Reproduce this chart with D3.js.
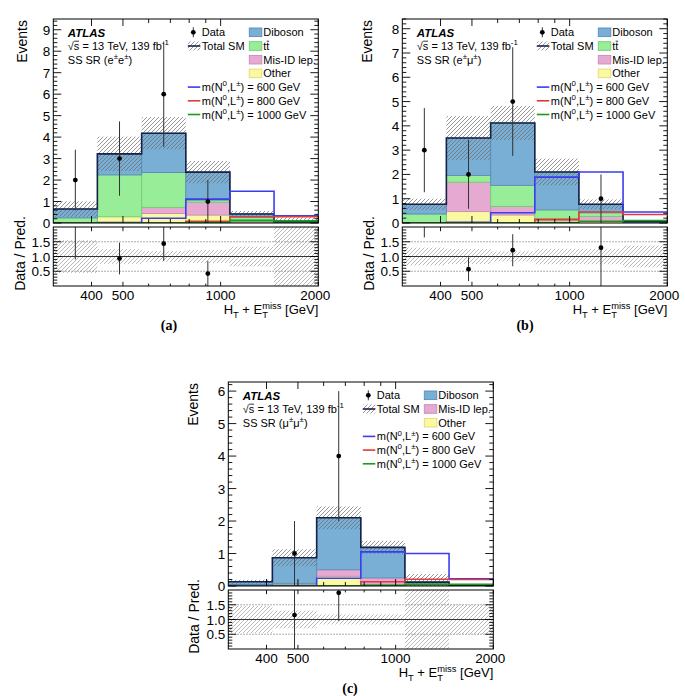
<!DOCTYPE html>
<html><head><meta charset="utf-8">
<script src="https://cdn.jsdelivr.net/npm/d3@7"></script>
<style>
body{margin:0;background:#fff}
svg{display:block}
text{font-family:"Liberation Sans",Arial,Helvetica,sans-serif;fill:#000;white-space:pre}
</style>
</head><body>
<svg id="c" width="685" height="696"></svg>
<script>
// ---------------- DATA ----------------
const binEdges = [305, 417, 571, 781, 1068, 1461, 2000];   // H_T + E_T^miss [GeV]
const xTickLabels = [400, 500, 1000, 2000];
const xMinorTicks = [600, 700, 800, 900];
const ratioTickLabels = ["0.5", "1.0", "1.5"];
const signalNames = ["600", "800", "1000"];

// (a) SS SR e±e±
const otherA   = [0.02, 0.29, 0.44, 0.37, 0.02, 0.00];
const misidA   = [0.00, 0.00, 0.29, 0.60, 0.05, 0.00];
const ttbarA   = [0.22, 1.95, 1.62, 0.10, 0.20, 0.04];
const dibosonA = [0.41, 0.98, 1.83, 1.30, 0.15, 0.02];
const uncA     = [0.36, 0.80, 0.75, 0.52, 0.14, 0.20];
const dataA    = [2, 3, 6, 1, 0, 0];
const sig600A  = [0.00, 0.02, 0.22, 1.11, 1.48, 0.33];
const sig800A  = [0.00, 0.00, 0.00, 0.08, 0.29, 0.29];
const sig1000A = [0.00, 0.00, 0.00, 0.02, 0.12, 0.10];

// (b) SS SR e±mu±
const otherB   = [0.02, 0.47, 0.33, 0.10, 0.07, 0.00];
const misidB   = [0.00, 1.21, 0.35, 0.06, 0.20, 0.00];
const ttbarB   = [0.35, 0.28, 0.87, 0.38, 0.15, 0.02];
const dibosonB = [0.40, 1.54, 2.57, 1.56, 0.35, 0.04];
const uncB     = [0.23, 0.90, 0.70, 0.55, 0.20, 0.022];
const dataB    = [3, 2, 5, 0, 1, 0];
const sig600B  = [0.00, 0.03, 0.42, 1.89, 2.10, 0.45];
const sig800B  = [0.00, 0.00, 0.00, 0.15, 0.45, 0.35];
const sig1000B = [0.00, 0.00, 0.00, 0.02, 0.07, 0.10];

// (c) SS SR mu±mu±
const otherC   = [0.01, 0.08, 0.30, 0.05, 0.02, 0.005];
const misidC   = [0.00, 0.00, 0.20, 0.20, 0.03, 0.005];
const dibosonC = [0.12, 0.79, 1.60, 0.94, 0.07, 0.010];
const uncC     = [0.06, 0.26, 0.35, 0.20, 0.25, 0.010];
const dataC    = [0, 1, 4, 0, 0, 0];
const sig600C  = [0.02, 0.02, 0.24, 1.05, 1.00, 0.22];
const sig800C  = [0.00, 0.00, 0.00, 0.13, 0.21, 0.20];
const sig1000C = [0.00, 0.00, 0.00, 0.02, 0.05, 0.05];

// ---------------- STYLE ----------------
const COL = {
  other:   {fill:"#fbf8a2", stroke:"#e0da78", label:[{t:"Other"}]},
  misid:   {fill:"#e5a9d2", stroke:"#c98cb6", label:[{t:"Mis-ID lep."}]},
  ttbar:   {fill:"#98ee98", stroke:"#6fcf6f", label:[{t:"t"},{t:"t",over:true}]},
  diboson: {fill:"#79aed5", stroke:"#5a8cb8", label:[{t:"Diboson"}]}
};
const SIGCOL = ["#3c3cf0", "#e03a3a", "#1b9a1b"];
const TOTCOL = "#17224a";
const W = 265, MAINH = 204, GAP = 4, RH = 59;
const FS = 11, AXFS = 13.5, TITFS = 14, XTITFS = 13;

const svg = d3.select("#c");
const defs = svg.append("defs");
function hatch(id, color, w){
  const p = defs.append("pattern").attr("id", id).attr("patternUnits", "userSpaceOnUse")
    .attr("width", 4).attr("height", 4);
  p.append("path").attr("d", "M-1,1 l2,-2 M0,4 l4,-4 M3,5 l2,-2")
    .attr("stroke", color).attr("stroke-width", w).attr("fill", "none");
}
hatch("hMain", "#6a6a6a", 0.7);
hatch("hRatio", "#9a9a9a", 0.7);

// rich text helper
function rich(g, x, y, parts, fs, anchor, opts){
  opts = opts || {};
  const grp = g.append("g");
  let cx = 0;
  parts.forEach(p => {
    const size = (p.sup || p.sub) ? fs * 0.72 : fs;
    const dy = p.sup ? -fs * 0.42 : (p.sub ? fs * 0.28 : 0);
    const t = grp.append("text").attr("x", cx).attr("y", dy).attr("font-size", size)
      .text(p.t.replace(/ /g, "\u00a0"));
    if (opts.weight) t.attr("font-weight", opts.weight);
    if (opts.style) t.attr("font-style", opts.style);
    if (opts.family) t.style("font-family", opts.family);
    let w = t.node().getComputedTextLength();
    if (p.under){
      const t2 = grp.append("text").attr("x", cx).attr("y", fs * 0.32).attr("font-size", fs * 0.72).text(p.under);
      w = Math.max(w, t2.node().getComputedTextLength());
    }
    if (p.over){
      grp.append("line").attr("x1", cx + 0.3).attr("x2", cx + w - 0.3)
        .attr("y1", -fs * 0.80).attr("y2", -fs * 0.80).attr("stroke", "#000").attr("stroke-width", 0.8);
    }
    cx += w + (p.gap || 0);
  });
  const off = anchor === "end" ? -cx : (anchor === "middle" ? -cx / 2 : 0);
  grp.attr("transform", `translate(${x + off},${y})`);
  return grp;
}

const panels = [
  {key:"a", left:53.3, top:19, ymax:9.5, yTicks:d3.range(0, 10),
   comps:{other:otherA, misid:misidA, ttbar:ttbarA, diboson:dibosonA},
   legend2:["diboson","ttbar","misid","other"],
   unc:uncA, data:dataA, sig:[sig600A, sig800A, sig1000A],
   region:[{t:"SS SR (e"},{t:"±",sup:true},{t:"e"},{t:"±",sup:true},{t:")"}],
   eventsX:22, ratioX:20, label:"(a)", labelX:169},
  {key:"b", left:402.3, top:19, ymax:8.4, yTicks:d3.range(0, 9),
   comps:{other:otherB, misid:misidB, ttbar:ttbarB, diboson:dibosonB},
   legend2:["diboson","ttbar","misid","other"],
   unc:uncB, data:dataB, sig:[sig600B, sig800B, sig1000B],
   region:[{t:"SS SR (e"},{t:"±",sup:true},{t:"μ"},{t:"±",sup:true},{t:")"}],
   eventsX:367, ratioX:369, label:"(b)", labelX:525},
  {key:"c", left:228.3, top:382, ymax:6.28, yTicks:d3.range(0, 7),
   comps:{other:otherC, misid:misidC, diboson:dibosonC},
   legend2:["diboson","misid","other"],
   unc:uncC, data:dataC, sig:[sig600C, sig800C, sig1000C],
   region:[{t:"SS SR ("},{t:"μ"},{t:"±",sup:true},{t:"μ"},{t:"±",sup:true},{t:")"}],
   eventsX:193, ratioX:194, label:"(c)", labelX:350}
];

const stackOrder = ["other", "misid", "ttbar", "diboson"];

panels.forEach(P => {
  const g = svg.append("g");
  const L = P.left, T = P.top, R = L + W, B = T + MAINH;
  const RT = B + GAP, RB = RT + RH;
  const x = d3.scaleLog().domain([binEdges[0], binEdges[binEdges.length - 1]]).range([L, R]);
  const y = d3.scaleLinear().domain([0, P.ymax]).range([B, T]);
  const yr = d3.scaleLinear().domain([0, 2]).range([RB, RT]);
  const nb = binEdges.length - 1;
  const centers = d3.range(nb).map(i => Math.sqrt(binEdges[i] * binEdges[i + 1]));

  defs.append("clipPath").attr("id", "cm" + P.key).append("rect")
    .attr("x", L).attr("y", T).attr("width", W).attr("height", MAINH);
  defs.append("clipPath").attr("id", "cr" + P.key).append("rect")
    .attr("x", L).attr("y", RT).attr("width", W).attr("height", RH);

  const gm = g.append("g").attr("clip-path", `url(#cm${P.key})`);

  const total = d3.range(nb).map(() => 0);
  stackOrder.forEach(k => {
    const arr = P.comps[k];
    if (!arr) return;
    d3.range(nb).forEach(i => {
      const y0 = total[i], y1 = total[i] + arr[i];
      if (arr[i] > 0.004) {
        gm.append("rect").attr("x", x(binEdges[i])).attr("width", x(binEdges[i + 1]) - x(binEdges[i]))
          .attr("y", y(y1)).attr("height", y(y0) - y(y1))
          .attr("fill", COL[k].fill).attr("stroke", COL[k].stroke).attr("stroke-width", 0.9);
      }
      total[i] = y1;
    });
  });

  d3.range(nb).forEach(i => {
    const lo = total[i] - P.unc[i], hi = total[i] + P.unc[i];
    gm.append("rect").attr("x", x(binEdges[i])).attr("width", x(binEdges[i + 1]) - x(binEdges[i]))
      .attr("y", y(hi)).attr("height", y(Math.max(lo, -1)) - y(hi)).attr("fill", "url(#hMain)");
  });

  const stepPath = (vals, sc) => {
    const pts = vals.map((v, i) => [x(binEdges[i]), sc(v)]);
    pts.push([x(binEdges[nb]), sc(vals[nb - 1])]);
    return d3.line().curve(d3.curveStepAfter)(pts);
  };
  gm.append("path").attr("d", stepPath(total, y)).attr("fill", "none")
    .attr("stroke", TOTCOL).attr("stroke-width", 1.6);
  P.sig.forEach((s, j) => {
    gm.append("path").attr("d", stepPath(s, y)).attr("fill", "none")
      .attr("stroke", SIGCOL[j]).attr("stroke-width", 1.6);
  });

  P.data.forEach((n, i) => {
    if (n <= 0) return;
    const e = Math.sqrt(n);
    gm.append("line").attr("x1", x(centers[i])).attr("x2", x(centers[i]))
      .attr("y1", y(n - e)).attr("y2", y(n + e)).attr("stroke", "#333").attr("stroke-width", 1);
    gm.append("circle").attr("cx", x(centers[i])).attr("cy", y(n)).attr("r", 2.4).attr("fill", "#000");
  });

  // ---- ratio panel ----
  const gr = g.append("g").attr("clip-path", `url(#cr${P.key})`);
  d3.range(nb).forEach(i => {
    const rel = total[i] > 0 ? P.unc[i] / total[i] : 5;
    gr.append("rect").attr("x", x(binEdges[i])).attr("width", x(binEdges[i + 1]) - x(binEdges[i]))
      .attr("y", yr(1 + rel)).attr("height", yr(1 - rel) - yr(1 + rel)).attr("fill", "url(#hRatio)");
  });
  [0.5, 1.5].forEach(v => {
    gr.append("line").attr("x1", L).attr("x2", R).attr("y1", yr(v)).attr("y2", yr(v))
      .attr("stroke", "#777").attr("stroke-width", 0.8).attr("stroke-dasharray", "1.5,1.5");
  });
  gr.append("line").attr("x1", L).attr("x2", R).attr("y1", yr(1)).attr("y2", yr(1))
    .attr("stroke", "#333").attr("stroke-width", 1);
  P.data.forEach((n, i) => {
    if (n <= 0) return;
    const r = n / total[i], e = Math.sqrt(n) / total[i];
    gr.append("line").attr("x1", x(centers[i])).attr("x2", x(centers[i]))
      .attr("y1", yr(r - e)).attr("y2", yr(r + e)).attr("stroke", "#333").attr("stroke-width", 1);
    gr.append("circle").attr("cx", x(centers[i])).attr("cy", yr(r)).attr("r", 2.4).attr("fill", "#000");
  });

  // ---- frames & ticks ----
  const ga = g.append("g").attr("stroke", "#000").attr("fill", "none");
  ga.append("rect").attr("x", L).attr("y", T).attr("width", W).attr("height", MAINH).attr("stroke-width", 1);
  ga.append("rect").attr("x", L).attr("y", RT).attr("width", W).attr("height", RH).attr("stroke-width", 1);
  const tick = (x1, y1, x2, y2) => ga.append("line").attr("x1", x1).attr("y1", y1).attr("x2", x2).attr("y2", y2).attr("stroke-width", 0.9);

  d3.range(0, P.ymax + 1e-6, 0.2).forEach(v => {
    const major = Math.abs(v - Math.round(v)) < 1e-6;
    const len = major ? 8 : 4;
    tick(L, y(v), L + len, y(v)); tick(R, y(v), R - len, y(v));
  });
  d3.range(0.1, 2, 0.1).forEach(v => {
    const major = Math.abs(v * 2 - Math.round(v * 2)) < 1e-6;
    const len = major ? 8 : 4;
    tick(L, yr(v), L + len, yr(v)); tick(R, yr(v), R - len, yr(v));
  });
  const xt = xTickLabels.map(v => [v, 7]).concat(xMinorTicks.map(v => [v, 4]));
  xt.forEach(([v, len]) => {
    const px = x(v);
    tick(px, B, px, B - len); tick(px, T, px, T + len);
    tick(px, RB, px, RB - len * 0.6); tick(px, RT, px, RT + len * 0.6);
  });

  const gl = g.append("g").attr("font-size", AXFS);
  P.yTicks.forEach(v => {
    gl.append("text").attr("x", L - 3).attr("y", y(v) + 5).attr("text-anchor", "end").text(v);
  });
  ratioTickLabels.forEach(s => {
    gl.append("text").attr("x", L - 3).attr("y", yr(+s) + 5).attr("text-anchor", "end").text(s);
  });
  xTickLabels.forEach(v => {
    gl.append("text").attr("x", x(v) - (v === 2000 ? 3 : 0)).attr("y", RB + 13.5).attr("text-anchor", "middle").text(v);
  });

  g.append("text").attr("transform", `translate(${P.eventsX + 5},${T + 1}) rotate(-90)`)
    .attr("text-anchor", "end").attr("font-size", TITFS).text("Events");
  g.append("text").attr("transform", `translate(${P.ratioX + 5},${(RT + RB) / 2 - 3}) rotate(-90)`)
    .attr("text-anchor", "middle").attr("font-size", TITFS).text("Data / Pred.");
  rich(g, R, RB + 28, [{t:"H"},{t:"T",sub:true},{t:" + E"},{t:"miss",sup:true,under:"T"},{t:" [GeV]"}], XTITFS, "end");
  g.append("text").attr("x", P.labelX).attr("y", RB + 43.5).attr("text-anchor", "middle")
    .attr("font-size", 14).attr("font-weight", "bold").style("font-family", "'Liberation Serif','Times New Roman',serif")
    .text(P.label);

  // ---- legend ----
  const row = i => T + 13.3 + 13.7 * i;
  const gt = g.append("g");
  rich(gt, L + 14.5, row(0) + 4.2, [{t:"ATLAS"}], 11.5, "start", {weight:"bold", style:"italic"});
  rich(gt, L + 14.5, row(1) + 4, [{t:"√"},{t:"s",over:true},{t:" = 13 TeV, 139 fb"},{t:"-1",sup:true}], FS, "start");
  rich(gt, L + 14.5, row(2) + 4, P.region, FS, "start");

  gt.append("line").attr("x1", L + 140).attr("x2", L + 140).attr("y1", row(0) - 5).attr("y2", row(0) + 5)
    .attr("stroke", "#333").attr("stroke-width", 1);
  gt.append("circle").attr("cx", L + 140).attr("cy", row(0)).attr("r", 2.4).attr("fill", "#000");
  rich(gt, L + 148.5, row(0) + 4, [{t:"Data"}], FS, "start");
  gt.append("rect").attr("x", L + 134.5).attr("y", row(1) - 4.5).attr("width", 12.5).attr("height", 9).attr("fill", "url(#hMain)");
  gt.append("line").attr("x1", L + 134.5).attr("x2", L + 147).attr("y1", row(1)).attr("y2", row(1))
    .attr("stroke", TOTCOL).attr("stroke-width", 1.6);
  rich(gt, L + 148.5, row(1) + 4, [{t:"Total SM"}], FS, "start");
  P.legend2.forEach((k, i) => {
    gt.append("rect").attr("x", L + 196).attr("y", row(i) - 4.3).attr("width", 12.5).attr("height", 8.6)
      .attr("fill", COL[k].fill).attr("stroke", COL[k].stroke).attr("stroke-width", 0.9);
    rich(gt, L + 210, row(i) + 4, COL[k].label, FS, "start");
  });
  const s0 = P.legend2.length;
  signalNames.forEach((m, j) => {
    const ry = row(s0 + j);
    gt.append("line").attr("x1", L + 134.5).attr("x2", L + 147).attr("y1", ry).attr("y2", ry)
      .attr("stroke", SIGCOL[j]).attr("stroke-width", 1.6);
    rich(gt, L + 148.5, ry + 4,
      [{t:"m(N"},{t:"0",sup:true},{t:",L"},{t:"±",sup:true},{t:") = " + m + " GeV"}], FS, "start");
  });
});
</script>
</body></html>
